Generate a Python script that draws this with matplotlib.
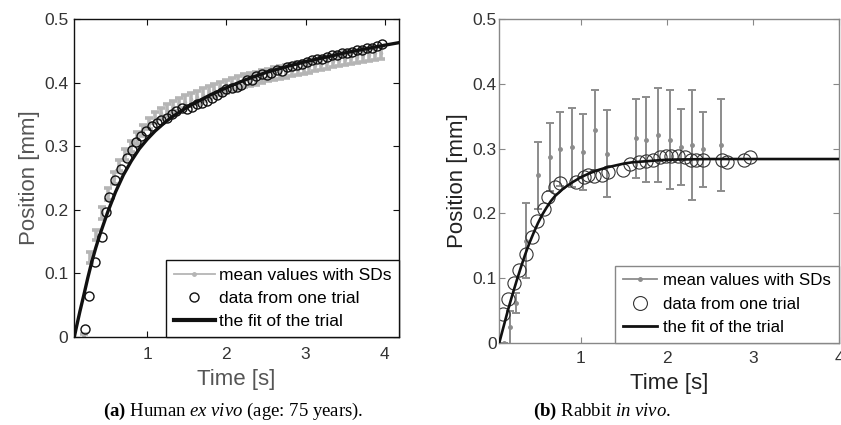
import matplotlib
matplotlib.use("Agg")
import matplotlib.pyplot as plt
from matplotlib.lines import Line2D

plt.rcParams['font.family'] = ['Liberation Sans', 'DejaVu Sans']
plt.rcParams['mathtext.fontset'] = 'custom'
plt.rcParams['mathtext.rm'] = 'Liberation Serif'
plt.rcParams['mathtext.it'] = 'Liberation Serif:italic'
plt.rcParams['mathtext.bf'] = 'Liberation Serif:bold'

# ---- (a) human ex vivo ----
fit_a_t = [0.08, 0.10, 0.15, 0.20, 0.25, 0.30, 0.35, 0.40, 0.45, 0.50, 0.60, 0.70, 0.80, 0.90,
           1.00, 1.10, 1.20, 1.30, 1.40, 1.50, 1.60, 1.80, 2.00, 2.25, 2.50, 2.75, 3.00, 3.25,
           3.50, 3.75, 4.00, 4.18]
fit_a_y = [0.0, 0.012, 0.040, 0.066, 0.093, 0.118, 0.140, 0.160, 0.178, 0.196, 0.228, 0.255,
           0.277, 0.296, 0.311, 0.324, 0.335, 0.345, 0.353, 0.361, 0.368, 0.381, 0.392, 0.405,
           0.416, 0.425, 0.433, 0.440, 0.447, 0.453, 0.459, 0.463]

trial_a_t = [0.21, 0.27, 0.34, 0.43, 0.48, 0.52, 0.60, 0.67, 0.74, 0.81, 0.86, 0.92, 0.99, 1.06,
             1.12, 1.18, 1.25, 1.31, 1.37, 1.44, 1.50, 1.56, 1.63, 1.69, 1.75, 1.82, 1.88, 1.94,
             2.00, 2.07, 2.13, 2.19, 2.26, 2.32, 2.38, 2.45, 2.51, 2.57, 2.64, 2.70, 2.76, 2.83,
             2.89, 2.95, 3.02, 3.08, 3.14, 3.21, 3.27, 3.33, 3.40, 3.46, 3.52, 3.59, 3.65, 3.71,
             3.78, 3.84, 3.90, 3.97]
trial_a_y = [0.013, 0.065, 0.118, 0.157, 0.196, 0.220, 0.247, 0.265, 0.282, 0.294, 0.306, 0.316,
             0.324, 0.332, 0.337, 0.341, 0.345, 0.350, 0.355, 0.360, 0.358, 0.362, 0.366, 0.368,
             0.372, 0.376, 0.380, 0.385, 0.390, 0.392, 0.394, 0.397, 0.404, 0.405, 0.410, 0.413,
             0.412, 0.415, 0.420, 0.418, 0.424, 0.426, 0.428, 0.430, 0.432, 0.435, 0.437, 0.438,
             0.441, 0.443, 0.444, 0.446, 0.447, 0.449, 0.451, 0.452, 0.454, 0.455, 0.457, 0.461]

mean_a_t = [0.20, 0.275, 0.35, 0.425, 0.50, 0.575, 0.65, 0.725, 0.80, 0.875, 0.95, 1.025, 1.10,
            1.175, 1.25, 1.325, 1.40, 1.475, 1.55, 1.625, 1.70, 1.775, 1.85, 1.925, 2.00, 2.075,
            2.15, 2.225, 2.30, 2.375, 2.45, 2.525, 2.60, 2.675, 2.75, 2.825, 2.90, 2.975, 3.05,
            3.125, 3.20, 3.275, 3.35, 3.425, 3.50, 3.575, 3.65, 3.725, 3.80, 3.875, 3.95]
mean_a_y = [0.0, 0.125, 0.160, 0.195, 0.225, 0.250, 0.270, 0.287, 0.300, 0.313, 0.325, 0.336,
            0.345, 0.352, 0.357, 0.362, 0.366, 0.370, 0.374, 0.377, 0.381, 0.385, 0.388, 0.391,
            0.394, 0.397, 0.400, 0.403, 0.405, 0.407, 0.410, 0.412, 0.414, 0.416, 0.418, 0.420,
            0.422, 0.424, 0.426, 0.428, 0.430, 0.432, 0.434, 0.436, 0.438, 0.440, 0.441, 0.443,
            0.444, 0.446, 0.447]
mean_a_sd = [0.004, 0.008, 0.008, 0.009, 0.009, 0.009, 0.009, 0.009, 0.009, 0.009, 0.009, 0.009,
             0.009, 0.009, 0.009, 0.009, 0.010, 0.010, 0.010, 0.010, 0.010, 0.010, 0.010, 0.010,
             0.010, 0.010, 0.010, 0.010, 0.010, 0.010, 0.010, 0.010, 0.010, 0.010, 0.010, 0.010,
             0.010, 0.010, 0.010, 0.010, 0.010, 0.010, 0.010, 0.010, 0.010, 0.010, 0.010, 0.010,
             0.010, 0.010, 0.010]

# ---- (b) rabbit in vivo ----
fit_b_t = [0.05, 0.10, 0.15, 0.20, 0.25, 0.30, 0.35, 0.40, 0.45, 0.50, 0.55, 0.60, 0.65, 0.70,
           0.80, 0.90, 1.00, 1.10, 1.20, 1.30, 1.40, 1.50, 1.60, 1.80, 2.00, 2.50, 3.00, 4.00]
fit_b_y = [0.0, 0.025, 0.050, 0.073, 0.095, 0.116, 0.136, 0.154, 0.170, 0.185, 0.198, 0.209,
           0.219, 0.227, 0.239, 0.248, 0.256, 0.262, 0.267, 0.271, 0.274, 0.277, 0.279, 0.281,
           0.283, 0.284, 0.284, 0.284]

trial_b_t = [0.09, 0.155, 0.225, 0.28, 0.36, 0.43, 0.49, 0.57, 0.62, 0.70, 0.76, 0.94, 1.03,
             1.085, 1.155, 1.24, 1.31, 1.49, 1.57, 1.67, 1.76, 1.84, 1.92, 1.99, 2.05, 2.13,
             2.21, 2.28, 2.34, 2.42, 2.64, 2.70, 2.89, 2.97]
trial_b_y = [0.045, 0.068, 0.092, 0.112, 0.138, 0.163, 0.189, 0.207, 0.225, 0.241, 0.247, 0.248,
             0.256, 0.260, 0.258, 0.259, 0.264, 0.267, 0.277, 0.279, 0.281, 0.283, 0.287, 0.289,
             0.288, 0.288, 0.287, 0.282, 0.283, 0.282, 0.282, 0.279, 0.282, 0.287]

mean_b_t = [0.10, 0.17, 0.24, 0.36, 0.50, 0.64, 0.76, 0.90, 1.02, 1.16, 1.30, 1.64, 1.76, 1.90,
            2.03, 2.16, 2.29, 2.42, 2.63]
mean_b_y = [0.0, 0.024, 0.062, 0.158, 0.259, 0.287, 0.300, 0.302, 0.295, 0.329, 0.292, 0.316,
            0.314, 0.321, 0.314, 0.303, 0.306, 0.299, 0.306]
mean_b_sd = [0.0, 0.025, 0.015, 0.058, 0.052, 0.053, 0.057, 0.061, 0.059, 0.062, 0.067, 0.061,
             0.065, 0.073, 0.077, 0.059, 0.085, 0.058, 0.071]

ytick_vals = [0, 0.1, 0.2, 0.3, 0.4, 0.5]
ytick_labels = ['0', '0.1', '0.2', '0.3', '0.4', '0.5']
xtick_vals = [1, 2, 3, 4]
legend_labels = ['mean values with SDs', 'data from one trial', 'the fit of the trial']

fig = plt.figure(figsize=(8.41, 4.25), dpi=100)
ax1 = fig.add_axes([0.088, 0.207, 0.3864, 0.748])
ax2 = fig.add_axes([0.5933, 0.193, 0.4043, 0.762])

# panel a
c_mean_a = '#b5b5b5'
ax1.errorbar(mean_a_t, mean_a_y, yerr=mean_a_sd, fmt='.', color=c_mean_a, ms=3,
             elinewidth=2.6, capsize=3, capthick=2.6, zorder=1)
ax1.plot(trial_a_t, trial_a_y, 'o', mfc='none', mec='#111111', ms=6.5, mew=1.0, zorder=2)
ax1.plot(fit_a_t, fit_a_y, '-', color='#111111', lw=2.4, zorder=3)
ax1.set_xlim(0.076, 4.18)
ax1.set_ylim(0, 0.5)

# panel b
c_mean_b = '#8c8c8c'
ax2.errorbar(mean_b_t, mean_b_y, yerr=mean_b_sd, fmt='.', color=c_mean_b, ms=5,
             elinewidth=1.4, capsize=3, capthick=1.4, zorder=1)
ax2.plot(trial_b_t, trial_b_y, 'o', mfc='none', mec='#333333', ms=9.5, mew=0.8, zorder=2)
ax2.plot(fit_b_t, fit_b_y, '-', color='#111111', lw=1.9, zorder=3)
ax2.set_xlim(0.047, 4.0)
ax2.set_ylim(0, 0.5)

for ax, spc, lblc, xpad, ypad in [(ax1, '#111111', '#555555', 7.5, 4), (ax2, '#888888', '#222222', 6, 1.5)]:
    ax.set_xticks(xtick_vals)
    ax.set_xticklabels([str(v) for v in xtick_vals])
    ax.set_yticks(ytick_vals)
    ax.set_yticklabels(ytick_labels)
    ax.tick_params(direction='in', top=True, right=True, length=4, width=0.8,
                   color=spc, labelcolor='#333333', labelsize=12.5)
    ax.tick_params(axis='x', pad=xpad)
    ax.tick_params(axis='y', pad=ypad)
    for s in ax.spines.values():
        s.set_color(spc)
        s.set_linewidth(1.0)
    ax.set_xlabel('Time [s]', fontsize=16, color=lblc, labelpad=5)
    ax.set_ylabel('Position [mm]', fontsize=16, color=lblc, labelpad=3)

handles_a = [Line2D([], [], color=c_mean_a, lw=1.3, marker='.', ms=5),
             Line2D([], [], ls='none', marker='o', mfc='none', mec='#111111', ms=6.5, mew=1.0),
             Line2D([], [], color='#111111', lw=3)]
leg1 = ax1.legend(handles_a, legend_labels, loc='lower right', bbox_to_anchor=(1.0, 0.0),
                  borderaxespad=0, fontsize=12.5, handlelength=2.4, handletextpad=0.2,
                  labelspacing=0.45, borderpad=0.45, fancybox=False, framealpha=1)
leg1.get_frame().set_edgecolor('#111111')
leg1.get_frame().set_linewidth(1.0)

handles_b = [Line2D([], [], color=c_mean_b, lw=1.3, marker='.', ms=5),
             Line2D([], [], ls='none', marker='o', mfc='none', mec='#333333', ms=10, mew=0.8),
             Line2D([], [], color='#111111', lw=2)]
leg2 = ax2.legend(handles_b, legend_labels, loc='lower right', bbox_to_anchor=(1.0, 0.0),
                  borderaxespad=0, fontsize=12.2, handlelength=2.0, handletextpad=0.4,
                  labelspacing=0.5, borderpad=0.45, fancybox=False, framealpha=1)
leg2.get_frame().set_edgecolor('#888888')
leg2.get_frame().set_linewidth(1.0)

fig.text(0.277, 0.031, r'$\mathbf{(a)}$ Human $\mathit{ex\ vivo}$ (age: 75 years).',
         family='Liberation Serif', fontsize=13.5, ha='center', va='center')
fig.text(0.716, 0.031, r'$\mathbf{(b)}$ Rabbit $\mathit{in\ vivo}$.',
         family='Liberation Serif', fontsize=13.5, ha='center', va='center')

fig.savefig('out.png', dpi=100)
